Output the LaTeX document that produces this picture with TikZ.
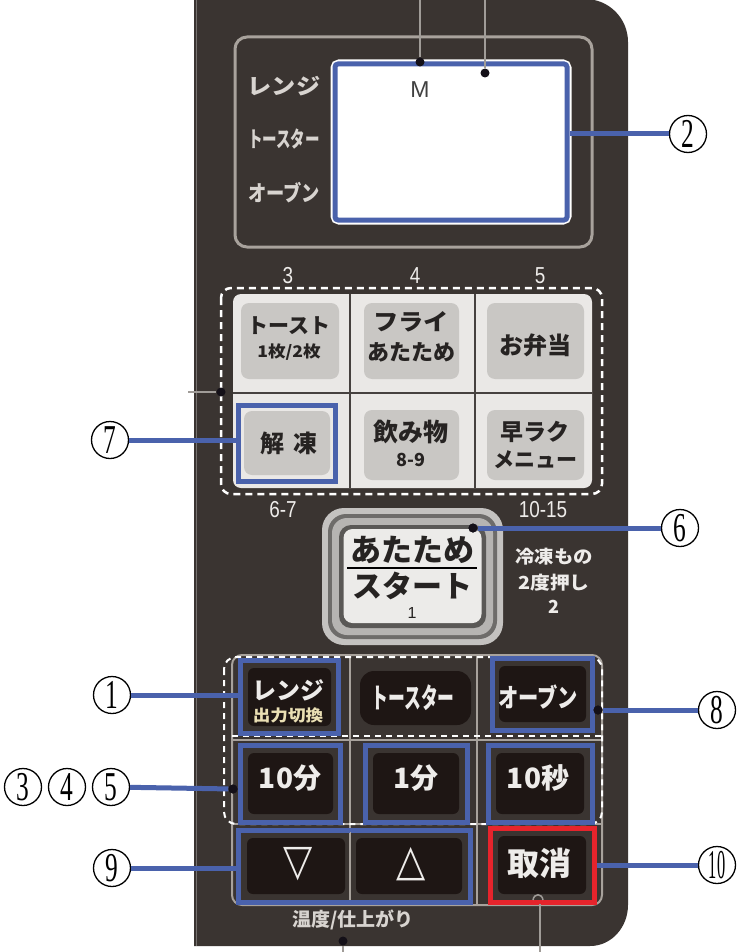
\documentclass[tikz,border=0pt]{standalone}
\usepackage{fontspec}
\setmainfont{Liberation Sans}
\newfontfamily\jp{Noto Sans CJK JP}
\newfontfamily\dv{DejaVu Sans}
\newfontfamily\ser{Liberation Serif}
\newcommand\myfs[1]{\fontsize{#1}{#1}\selectfont}
\definecolor{panel}{HTML}{3A3431}
\definecolor{hl}{HTML}{4A62AC}
\definecolor{redhl}{HTML}{E6242C}
\definecolor{leadg}{HTML}{A09C98}
\definecolor{frameg}{HTML}{A8A29C}
\definecolor{menubg}{HTML}{EAE8E6}
\definecolor{menubtn}{HTML}{C9C7C4}
\definecolor{gridc}{HTML}{46413F}
\definecolor{btn}{HTML}{1E1614}
\definecolor{txtw}{HTML}{EEECEA}
\definecolor{txtl}{HTML}{D8D4D0}
\definecolor{txtk}{HTML}{262322}
\definecolor{txty}{HTML}{EADFB4}
\definecolor{dotc}{HTML}{141018}
\definecolor{sbA}{HTML}{C4C2C0}
\definecolor{sbB}{HTML}{6E6C6A}
\definecolor{sbC}{HTML}{B6B4B2}
\definecolor{sbD}{HTML}{5A5856}
\definecolor{sbE}{HTML}{ECEBE9}
\begin{document}
\begin{tikzpicture}[x=1pt,y=-1pt,
  conn/.style={draw=hl,line width=5pt},
  lead/.style={draw=leadg,line width=1.5pt},
  dot/.style={circle,fill=dotc,inner sep=0pt,minimum size=9pt},
  circnum/.style={circle,draw=black,line width=1.3pt,minimum size=37pt,inner sep=0pt,font=\ser\myfs{41}},
  hlbox/.style={draw=hl,line width=5pt,inner sep=0pt},
  darkbtn/.style={fill=btn,rounded corners=6pt,inner sep=0pt},
  graybtn/.style={fill=menubtn,rounded corners=8pt,inner sep=0pt},
  wtxt/.style={text=txtw,inner sep=0pt},
  ktxt/.style={text=txtk,inner sep=0pt},
  ltxt/.style={text=txtl,inner sep=0pt,font=\jp\bfseries\myfs{22}}]
\useasboundingbox (0,0) rectangle (740,952);
\fill[white] (0,0) rectangle (740,952);
% panel
\fill[panel] (194,-1) -- (585,-1) to[out=0,in=90] (628,42) -- (628,905) to[out=-90,in=0] (590,946) -- (194,946) -- cycle;
\draw[panel!70!white,line width=1pt] (196,0) -- (196,946);
% display
\draw[frameg,line width=3pt,rounded corners=12pt] (235,37) rectangle (592,247);
\draw[white,line width=9pt,rounded corners=4pt] (335,64) rectangle (567,220);
\node[draw=hl,line width=5pt,fill=white,rounded corners=3pt,minimum width=232pt,minimum height=156pt,inner sep=0pt] (disp) at (451,142) {};
\node[ltxt] (lrange) at (284,86) {\scalebox{1.1}[1]{レンジ}};
\node[ltxt] (ltoast) at (284,139) {\scalebox{0.66}[1]{トースター}};
\node[ltxt] (loven) at (284,193) {\scalebox{0.83}[1]{オーブン}};
\node[inner sep=0pt,text=black!75,font=\myfs{23}] (mlab) at (420,90) {M};
\coordinate (top1) at (420,0);
\coordinate (top2) at (485,0);
\node[dot] (d1) at (420,62) {};
\node[dot] (d2) at (485,73) {};
\draw[lead] (top1) -- (d1);
\draw[lead] (top2) -- (d2);
% menu area
\draw[white,line width=2.5pt,dash pattern=on 7pt off 5pt,rounded corners=10pt] (221,288) rectangle (602,494);
\fill[menubg,rounded corners=8pt] (233,294) rectangle (592,488);
\draw[gridc,line width=2.5pt] (350,294) -- (350,488) (475,294) -- (475,488) (233,393) -- (592,393);
\fill[graybtn] (241,303) rectangle (339,379);
\fill[graybtn] (364,303) rectangle (459,379);
\fill[graybtn] (487,303) rectangle (584,379);
\fill[graybtn] (244,411) rectangle (330,475);
\fill[graybtn] (364,410) rectangle (459,480);
\fill[graybtn] (487,410) rectangle (584,480);
\node[hlbox,minimum width=97pt,minimum height=76pt] (kaito) at (286.5,443) {};
\node[ktxt,font=\jp\bfseries\myfs{21}] (m1a) at (289,326) {トースト};
\node[ktxt,font=\jp\bfseries\myfs{16}] (m1b) at (289,352) {\scalebox{1.1}[1]{1枚/2枚}};
\node[ktxt,font=\jp\bfseries\myfs{23}] (m2a) at (411,322) {\scalebox{1.1}[1]{フライ}};
\node[ktxt,font=\jp\bfseries\myfs{22}] (m2b) at (411,352) {あたため};
\node[ktxt,font=\jp\bfseries\myfs{24}] (m3) at (535,345) {お弁当};
\node[ktxt,font=\jp\bfseries\myfs{24}] (m4) at (289,443) {解\hspace{9pt}凍};
\node[ktxt,font=\jp\bfseries\myfs{25}] (m5a) at (411,432) {飲み物};
\node[ktxt,font=\jp\bfseries\myfs{18}] (m5b) at (411,460) {8-9};
\node[ktxt,font=\jp\bfseries\myfs{23}] (m6a) at (535,432) {早ラク};
\node[ktxt,font=\jp\bfseries\myfs{21}] (m6b) at (535,460) {メニュー};
\node[wtxt,font=\myfs{21}] (n3) at (288,276) {\scalebox{0.9}[1.1]{3}};
\node[wtxt,font=\myfs{21}] (n4) at (415,276) {\scalebox{0.9}[1.1]{4}};
\node[wtxt,font=\myfs{21}] (n5) at (540,276) {\scalebox{0.9}[1.1]{5}};
\node[wtxt,font=\myfs{21}] (n67) at (283,510) {\scalebox{0.9}[1.1]{6-7}};
\node[wtxt,font=\myfs{21}] (n1015) at (543,510) {\scalebox{0.9}[1.1]{10-15}};
\coordinate (mleft) at (188,392);
\node[dot] (dm) at (221,392) {};
\draw[lead] (mleft) -- (dm);
% start button
\fill[sbA,rounded corners=22pt] (322,508) rectangle (503,645);
\fill[sbB,rounded corners=18pt] (328,514) rectangle (497,639);
\fill[sbC,rounded corners=15pt] (332,518) rectangle (493,635);
\fill[sbD,rounded corners=12pt] (339,525) rectangle (486,628);
\node[fill=sbE,rounded corners=9pt,minimum width=138pt,minimum height=94pt,inner sep=0pt] (start) at (412.5,576) {};
\node[ktxt,font=\jp\bfseries\myfs{31}] (s1) at (412,550) {あたため};
\draw[black,line width=2pt] (347,568) -- (477,568);
\node[ktxt,font=\jp\bfseries\myfs{30}] (s2) at (412,586) {スタート};
\node[ktxt,font=\myfs{16}] (s3) at (412,613) {1};
\node[wtxt,font=\jp\bfseries\myfs{18}] (f1) at (554,557) {\scalebox{1.08}[1]{冷凍もの}};
\node[wtxt,font=\jp\bfseries\myfs{18}] (f2) at (554,583) {\scalebox{1.1}[1]{2度押し}};
\node[wtxt,font=\jp\bfseries\myfs{18}] (f3) at (554,607) {2};
\node[dot] (d6) at (473,528) {};
% lower section
\draw[frameg,line width=2pt,rounded corners=10pt] (232,655) rectangle (602,905);
\draw[frameg,line width=1.5pt] (350,655) -- (350,905) (477,655) -- (477,905) (232,740) -- (602,740) (232,824) -- (602,824);
\draw[white,line width=2pt,dash pattern=on 6pt off 5pt,rounded corners=12pt] (224,657) rectangle (602,824);
\draw[white,line width=2pt,dash pattern=on 6pt off 5pt] (232,736) -- (602,736);
% row 1
\fill[darkbtn] (248,668) rectangle (331,726);
\fill[darkbtn,rounded corners=14pt] (360,671) rectangle (471,725);
\fill[darkbtn] (499,666) rectangle (586,722);
\node[hlbox,minimum width=98pt,minimum height=73pt] (hl1) at (289,696.5) {};
\node[hlbox,minimum width=100pt,minimum height=72pt] (hl8) at (542,694) {};
\node[wtxt,font=\jp\bfseries\myfs{24}] (b1a) at (288,690) {レンジ};
\node[text=txty,inner sep=0pt,font=\jp\bfseries\myfs{16}] (b1b) at (288,715) {\scalebox{1.1}[1]{出力切換}};
\node[wtxt,font=\jp\bfseries\myfs{28}] (b2) at (413,698) {\scalebox{0.6}[1]{トースター}};
\node[wtxt,font=\jp\bfseries\myfs{26}] (b3) at (538,697) {\scalebox{0.78}[1]{オーブン}};
% row 2
\fill[darkbtn] (248,753) rectangle (333,814);
\fill[darkbtn] (373,753) rectangle (459,814);
\fill[darkbtn] (496,753) rectangle (584,814);
\node[hlbox,minimum width=100pt,minimum height=77pt] (hl10m) at (290,783.5) {};
\node[hlbox,minimum width=102pt,minimum height=77pt] (hl1m) at (416,783.5) {};
\node[hlbox,minimum width=104pt,minimum height=77pt] (hl10s) at (540,783.5) {};
\node[wtxt,font=\jp\bfseries\myfs{28}] (b4) at (290,778) {10分};
\node[wtxt,font=\jp\bfseries\myfs{28}] (b5) at (416,778) {1分};
\node[wtxt,font=\jp\bfseries\myfs{28}] (b6) at (538,778) {10秒};
% row 3
\fill[darkbtn] (247,838) rectangle (345,894);
\fill[darkbtn] (356,838) rectangle (462,894);
\fill[darkbtn] (498,836) rectangle (586,894);
\node[hlbox,minimum width=232pt,minimum height=72pt] (hl9) at (354,866) {};
\draw[frameg,line width=1pt] (350,832) -- (350,900);
\node[draw=redhl,line width=5pt,inner sep=0pt,minimum width=104pt,minimum height=74pt] (cancel) at (542,865) {};
\node[wtxt,font=\dv\myfs{38}] (down) at (298,864) {\scalebox{1}[1.15]{▽}};
\node[wtxt,font=\dv\myfs{38}] (up) at (411,864) {\scalebox{1}[1.15]{△}};
\node[wtxt,font=\jp\bfseries\myfs{32}] (b7) at (539,863) {取消};
\node[text=txtl,inner sep=0pt,font=\jp\bfseries\myfs{19}] (temp) at (353,920) {温度/仕上がり};
\node[dot] (dt) at (343,941) {};
\coordinate (bot1) at (343,952);
\draw[lead] (dt) -- (bot1);
\coordinate (ca1) at (533,900);
\coordinate (ca2) at (543,900);
\draw[lead] (ca1) .. controls (534,893) and (542,893) .. (ca2);
\coordinate (bot2a) at (540,904);
\coordinate (bot2) at (540,952);
\draw[lead] (bot2a) -- (bot2);
\node[dot] (d8) at (598,710) {};
\node[dot] (d345) at (233,789) {};
% circled numbers
\node[circnum] (c2) at (688,134) {\scalebox{0.62}[1]{2}};
\node[circnum] (c7) at (110,440) {\scalebox{0.62}[1]{7}};
\node[circnum] (c6) at (680,528) {\scalebox{0.62}[1]{6}};
\node[circnum] (c1) at (112,695) {\scalebox{0.62}[1]{1}};
\node[circnum] (c3) at (23,787) {\scalebox{0.62}[1]{3}};
\node[circnum] (c4) at (67,787) {\scalebox{0.62}[1]{4}};
\node[circnum] (c5) at (111,787) {\scalebox{0.62}[1]{5}};
\node[circnum] (c9) at (112,868) {\scalebox{0.62}[1]{9}};
\node[circnum] (c8) at (717,710) {\scalebox{0.62}[1]{8}};
\node[circnum] (c10) at (717,865) {\scalebox{0.4}[1]{10}};
% connectors
\draw[conn] (c2) -- (disp.east |- c2);
\draw[conn] (c7) -- (kaito.west |- c7);
\draw[conn] (d6) -- (c6);
\draw[conn] (c1) -- (hl1.west |- c1);
\draw[conn] (c5) -- (d345);
\draw[conn] (c9) -- (hl9.west |- c9);
\draw[conn] (d8) -- (c8);
\draw[conn] (cancel.east |- c10) -- (c10);
\node[dot] at (d6) {};
\node[dot] at (d8) {};
\node[dot] at (d345) {};
\end{tikzpicture}
\end{document}
